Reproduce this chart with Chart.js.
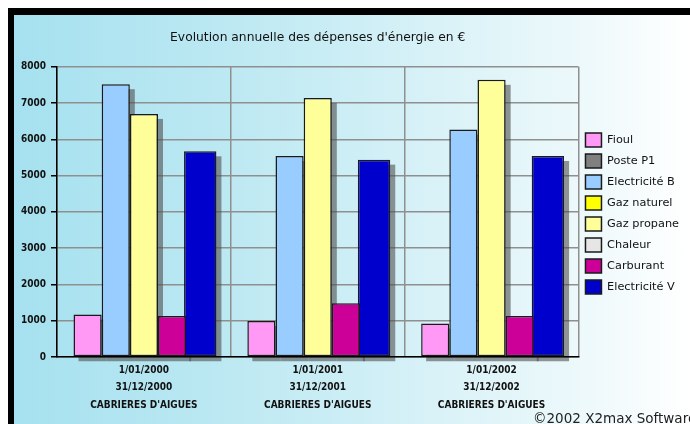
<!DOCTYPE html>
<html>
<head>
<meta charset="utf-8">
<script src="https://cdn.jsdelivr.net/npm/chart.js@4.4.1/dist/chart.umd.min.js"></script>
<style>
  html, body { margin: 0; padding: 0; background: #fff; overflow: hidden; width: 690px; height: 424px; }
  #frame {
    position: absolute; left: 8px; top: 8px;
    width: 676px; height: 409px;
    border-left: 6px solid #000; border-top: 7px solid #000;
    background: linear-gradient(to right, #a6e1ef 0%, #bbe8f2 30%, #d6f1f7 60%, #eef9fb 85%, #ffffff 100%);
  }
  #copy {
    position: absolute; left: 533px; top: 410px;
    font: 13.5px "DejaVu Sans", sans-serif; color: #222; white-space: nowrap;
  }
</style>
</head>
<body>
<div id="frame"><canvas id="chart" width="676" height="409"></canvas></div>
<div id="copy">©2002 X2max Software</div>
<script>
// periods (3 tick lines each)
const periods = [
  ["1/01/2000", "31/12/2000", "CABRIERES D'AIGUES"],
  ["1/01/2001", "31/12/2001", "CABRIERES D'AIGUES"],
  ["1/01/2002", "31/12/2002", "CABRIERES D'AIGUES"]
];

// expenses in euros, null = no expense for that energy
const fioul        = [1170, 990, 920];
const posteP1      = [null, null, null];
const electriciteB = [7520, 5540, 6270];
const gazNaturel   = [null, null, null];
const gazPropane   = [6700, 7140, 7640];
const chaleur      = [null, null, null];
const carburant    = [1130, 1480, 1130];
const electriciteV = [5670, 5440, 5540];

const yTicks = [0, 1000, 2000, 3000, 4000, 5000, 6000, 7000, 8000];

const narrow = "'Liberation Sans Narrow', 'DejaVu Sans Condensed', sans-serif";

function serie(label, data, color, extra) {
  return Object.assign({
    label: label,
    data: data,
    backgroundColor: color,
    borderColor: "#1a1a1a",
    borderWidth: 1.5,
    borderSkipped: false,
    barPercentage: 1,
    categoryPercentage: 0.81
  }, extra || {});
}

// grey drop shadow behind each bar
const barShadow = {
  id: "barShadow",
  beforeDatasetsDraw(chart) {
    const ctx = chart.ctx;
    ctx.save();
    ctx.fillStyle = "rgba(80,80,80,0.6)";
    chart.getSortedVisibleDatasetMetas().forEach(meta => {
      const values = chart.data.datasets[meta.index].data;
      meta.data.forEach((bar, i) => {
        if (values[i] == null) return;
        const p = bar.getProps(["x", "y", "base", "width"], true);
        ctx.fillRect(p.x - p.width / 2 + 5, p.y + 5, p.width, p.base - p.y);
      });
    });
    ctx.restore();
  }
};

// nudge the legend block up a little
const legendNudge = {
  id: "legendNudge",
  afterLayout(chart) {
    chart.legend.top -= 6;
    chart.legend.bottom -= 6;
  }
};

new Chart(document.getElementById("chart"), {
  type: "bar",
  data: {
    labels: periods,
    datasets: [
      serie("Fioul", fioul, "#ff99f5"),
      serie("Poste P1", posteP1, "#808080"),
      serie("Electricité B", electriciteB, "#99ccff"),
      serie("Gaz naturel", gazNaturel, "#ffff00"),
      serie("Gaz propane", gazPropane, "#ffff99"),
      serie("Chaleur", chaleur, "#e6e6e6"),
      serie("Carburant", carburant, "#cc0099"),
      serie("Electricité V", electriciteV, "#0000cc", { barPercentage: 1.15 })
    ]
  },
  options: {
    responsive: false,
    animation: false,
    skipNull: true,
    layout: { padding: { left: 0, right: 1, top: 0, bottom: 0 } },
    plugins: {
      title: {
        display: true,
        fullSize: false,
        text: "Evolution annuelle des dépenses d'énergie en €",
        color: "#111",
        font: { family: "'DejaVu Sans', sans-serif", size: 12.3, weight: "normal", lineHeight: 1.2 },
        padding: { top: 15, bottom: 22 }
      },
      legend: {
        position: "right",
        labels: {
          boxWidth: 16,
          boxHeight: 14,
          padding: 7,
          color: "#111",
          font: { family: "'DejaVu Sans', sans-serif", size: 11.3 }
        }
      },
      tooltip: { enabled: false }
    },
    scales: {
      x: {
        afterFit: s => { s.height = 67; },
        grid: { offset: true, color: "#8f8f8f", lineWidth: 1.5, drawTicks: false },
        border: { color: "#000", width: 1.5, z: 1 },
        ticks: {
          padding: 5,
          color: "#111",
          font: { family: narrow, size: 10, weight: "bold", lineHeight: 1.72 }
        }
      },
      y: {
        min: 0,
        max: 8000,
        afterFit: s => { s.width = 43; },
        afterBuildTicks: s => { s.ticks = yTicks.map(v => ({ value: v })); },
        grid: { color: "#8f8f8f", lineWidth: 1.5, tickColor: "#000", tickLength: 6 },
        border: { color: "#000", width: 1.5, z: 1 },
        ticks: {
          padding: 5,
          color: "#111",
          font: { family: narrow, size: 10, weight: "bold" },
          callback: v => String(v)
        }
      }
    }
  },
  plugins: [barShadow, legendNudge]
});
</script>
</body>
</html>
